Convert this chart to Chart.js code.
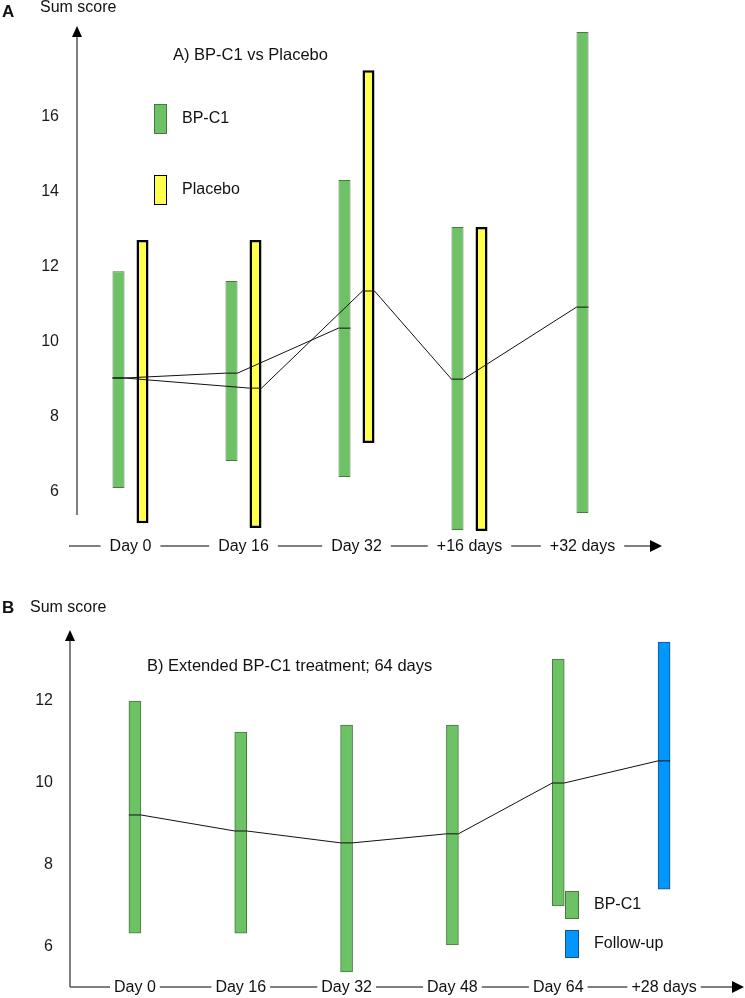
<!DOCTYPE html>
<html>
<head>
<meta charset="utf-8">
<script src="https://cdn.jsdelivr.net/npm/chart.js@4.4.0/dist/chart.umd.min.js"></script>
<style>
  body { margin: 0; background: #fff; }
  canvas { position: absolute; left: 0; }
</style>
</head>
<body>
<canvas id="chartA" width="745" height="575" style="top:0"></canvas>
<canvas id="chartB" width="745" height="423" style="top:575px"></canvas>
<script>
// panel A - BP-C1 vs placebo (low / high of each bar, plus the mean)
const visitsA = ['Day 0', 'Day 16', 'Day 32', '+16 days', '+32 days']
const bpRangeA = [[6.11, 11.89], [6.83, 11.63], [6.40, 14.32], [4.99, 13.07], [5.44, 18.27]]
const bpMeanA = [9.04, 9.17, 10.37, 9.01, 10.93]
const placeboRangeA = [[5.17, 12.72], [5.04, 12.72], [7.31, 17.25], [4.96, 13.07], null]
const placeboMeanA = [9.04, 8.77, 11.36, null, null]
const yTicksA = [6, 8, 10, 12, 14, 16]
// which bars the mean lines pass through: [dataset, visit]
const meanLinesA = [
    [[0, 0], [0, 1], [0, 2]],
    [[0, 0], [1, 1], [1, 2], [0, 3], [0, 4]]
]

// panel B - extended BP-C1 treatment
const visitsB = ['Day 0', 'Day 16', 'Day 32', 'Day 48', 'Day 64', '+28 days']
const bpRangeB = [[6.34, 12.0], [6.34, 11.24], [5.39, 11.41], [6.05, 11.41], [7.0, 13.02], null]
const bpMeanB = [9.22, 8.83, 8.54, 8.76, 10.0, null]
const followRangeB = [null, null, null, null, null, [7.41, 13.44]]
const followMeanB = [null, null, null, null, null, 10.54]
const yTicksB = [6, 8, 10, 12]
const meanLinesB = [[[0, 0], [0, 1], [0, 2], [0, 3], [0, 4], [1, 5]]]

const family = '"Liberation Sans", Arial, sans-serif'
const green = '#6cc264', greenEdge = '#4a7742'
const yellow = '#ffff4d', yellowEdge = '#000000'
const blue = '#0096ff', blueEdge = '#1d4f7c'

function arrowHead(ctx, tipX, tipY, dir, len, half) {
    ctx.beginPath()
    if (dir === 'up') {
        ctx.moveTo(tipX, tipY)
        ctx.lineTo(tipX - half, tipY + len)
        ctx.lineTo(tipX + half, tipY + len)
    } else {
        ctx.moveTo(tipX, tipY)
        ctx.lineTo(tipX - len, tipY - half)
        ctx.lineTo(tipX - len, tipY + half)
    }
    ctx.closePath()
    ctx.fill()
}

const sketchPlugin = {
    id: 'sketch',
    afterDatasetsDraw(chart, args, o) {
        const ctx = chart.ctx
        const y = chart.scales.y
        ctx.save()
        ctx.strokeStyle = '#111'
        ctx.lineWidth = 1
        o.lines.forEach(path => {
            ctx.beginPath()
            path.forEach(([ds, i], k) => {
                const bar = chart.getDatasetMeta(ds).data[i]
                const py = y.getPixelForValue(o.means[ds][i])
                const half = bar.width / 2
                if (k === 0) ctx.moveTo(bar.x - half, py)
                else ctx.lineTo(bar.x - half, py)
                ctx.lineTo(bar.x + half, py)
            })
            ctx.stroke()
        })
        ctx.restore()
    },
    afterDraw(chart, args, o) {
        const ctx = chart.ctx
        ctx.save()
        ctx.textBaseline = 'middle'
        ctx.fillStyle = '#111'
        ctx.font = 'bold 17px ' + family
        ctx.fillText(o.letter, 2, o.letterY)
        ctx.font = '16px ' + family
        ctx.fillText('Sum score', o.unitX, o.headY)
        ctx.font = '16.5px ' + family
        ctx.fillText(o.title, o.titleX, o.titleY)

        // legend
        ctx.font = '16px ' + family
        chart.data.datasets.forEach((ds, i) => {
            const ly = o.legendY + i * o.legendStep
            ctx.fillStyle = ds.backgroundColor
            ctx.fillRect(o.legendX, ly, o.legendW, o.legendH)
            ctx.strokeStyle = ds.borderColor
            ctx.lineWidth = 1
            ctx.strokeRect(o.legendX + 0.5, ly + 0.5, o.legendW - 1, o.legendH - 1)
            ctx.fillStyle = '#111'
            ctx.fillText(ds.label, o.legendX + o.legendW + 15, ly + o.legendH / 2)
        })

        // y axis with arrow
        ctx.strokeStyle = o.axisColor
        ctx.fillStyle = '#000'
        ctx.lineWidth = o.axisWidth
        ctx.beginPath()
        ctx.moveTo(o.axisX, o.axisBottom)
        ctx.lineTo(o.axisX, o.axisTip + 10)
        ctx.stroke()
        arrowHead(ctx, o.axisX, o.axisTip, 'up', 11, 5)

        // x axis: labels joined by line pieces, arrow at the end
        const xs = chart.scales.x
        ctx.font = '16px ' + family
        ctx.textAlign = 'center'
        let cursor = o.rowStart
        const piece = (a, b) => {
            ctx.beginPath()
            ctx.moveTo(a, o.rowY)
            ctx.lineTo(b, o.rowY)
            ctx.stroke()
        }
        chart.data.labels.forEach((lab, i) => {
            const cx = xs.getPixelForValue(i)
            const w = ctx.measureText(lab).width
            piece(cursor, cx - w / 2 - o.gap)
            ctx.fillStyle = '#111'
            ctx.fillText(lab, cx, o.rowY + 1)
            cursor = cx + w / 2 + o.gap
        })
        piece(cursor, o.rowEnd - 10)
        ctx.fillStyle = '#000'
        arrowHead(ctx, o.rowEnd, o.rowY, 'right', 12, 6)
        ctx.restore()
    }
}

function yScale(min, max, ticks, width, pad) {
    return {
        min: min,
        max: max,
        afterBuildTicks: s => { s.ticks = ticks.map(v => ({ value: v })) },
        afterFit: s => {
            s.width = width
            s.paddingTop = 0
            s.paddingBottom = 0
        },
        grid: { display: false },
        border: { display: false },
        ticks: { padding: pad, color: '#1a1a1a', font: { family: family, size: 16 } }
    }
}

new Chart(document.getElementById('chartA'), {
    type: 'bar',
    data: {
        labels: visitsA,
        datasets: [
            { label: 'BP-C1', data: bpRangeA, backgroundColor: green, borderColor: greenEdge, borderWidth: 1 },
            { label: 'Placebo', data: placeboRangeA, backgroundColor: yellow, borderColor: yellowEdge, borderWidth: 2.5 }
        ]
    },
    options: {
        responsive: false,
        animation: false,
        devicePixelRatio: 1,
        layout: { padding: { top: 19.5, bottom: 30.5, left: 0, right: 106 } },
        datasets: {
            bar: {
                skipNull: true,
                categoryPercentage: 0.425,
                barPercentage: 0.5,
                maxBarThickness: 12,
                borderSkipped: false
            }
        },
        scales: {
            x: { display: false, offset: true },
            y: yScale(4.6, 18.6, yTicksA, 74, 7)
        },
        plugins: {
            legend: { display: false },
            tooltip: { enabled: false },
            sketch: {
                means: [bpMeanA, placeboMeanA],
                lines: meanLinesA,
                letter: 'A', letterY: 12, headY: 8, unitX: 40,
                title: 'A) BP-C1 vs Placebo', titleX: 173, titleY: 55,
                legendX: 154, legendY: 104, legendStep: 71, legendW: 13, legendH: 30,
                axisX: 77, axisBottom: 515, axisTip: 26, axisColor: '#000', axisWidth: 1,
                rowY: 546, rowStart: 69, rowEnd: 662, gap: 9
            }
        }
    },
    plugins: [sketchPlugin]
})

new Chart(document.getElementById('chartB'), {
    type: 'bar',
    data: {
        labels: visitsB,
        datasets: [
            { label: 'BP-C1', data: bpRangeB, backgroundColor: green, borderColor: greenEdge, borderWidth: 1 },
            { label: 'Follow-up', data: followRangeB, backgroundColor: blue, borderColor: blueEdge, borderWidth: 1 }
        ]
    },
    options: {
        responsive: false,
        animation: false,
        devicePixelRatio: 1,
        layout: { padding: { top: 52.2, bottom: 10, left: 0, right: 28 } },
        datasets: {
            bar: {
                skipNull: true,
                barThickness: 12,
                borderSkipped: false
            }
        },
        scales: {
            x: { display: false, offset: true },
            y: yScale(5.0, 13.8, yTicksB, 82, 21)
        },
        plugins: {
            legend: { display: false },
            tooltip: { enabled: false },
            sketch: {
                means: [bpMeanB, followMeanB],
                lines: meanLinesB,
                letter: 'B', letterY: 33, headY: 33, unitX: 30,
                title: 'B) Extended BP-C1 treatment; 64 days', titleX: 147, titleY: 91,
                legendX: 565, legendY: 316, legendStep: 39, legendW: 14, legendH: 28,
                axisX: 70, axisBottom: 412, axisTip: 55, axisColor: '#555', axisWidth: 1.5,
                rowY: 412, rowStart: 70, rowEnd: 744, gap: 4
            }
        }
    },
    plugins: [sketchPlugin]
})
</script>
</body>
</html>
